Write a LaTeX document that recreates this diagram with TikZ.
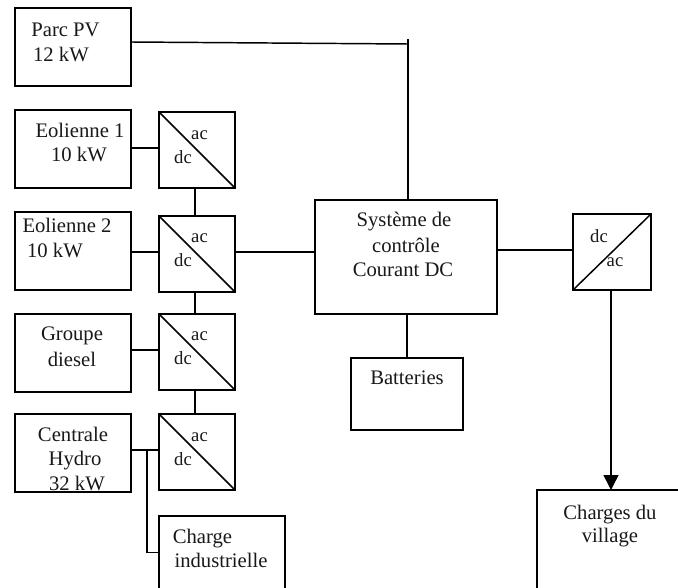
\documentclass[tikz,border=0pt]{standalone}
\usepackage{fontspec}
\setmainfont{Liberation Serif}
\usetikzlibrary{arrows.meta}
\tikzset{
  x=0.75pt,y=-0.75pt,
  boxnode/.style={draw=black,line width=1.1pt,fill=white,rectangle,inner sep=0pt,outer sep=0pt},
  wire/.style={draw=black,line width=1.1pt},
  lbl/.style={font=\fontsize{15.5}{18}\selectfont,inner sep=0pt,anchor=base,text=black!90},
  convlbl/.style={font=\fontsize{14}{16}\selectfont,inner sep=0pt,anchor=base,text=black!90}
}
\newcommand{\boxat}[5]{\node[boxnode,minimum width=#4*0.75pt,minimum height=#5*0.75pt] (#1) at (#2,#3) {};}
\begin{document}
\begin{tikzpicture}
\useasboundingbox (0,0) rectangle (678,588);
\clip (0,0) rectangle (678,588);
% source boxes
\boxat{pv}{73}{47}{116}{78}
\boxat{eo1}{73}{149}{116}{78}
\boxat{eo2}{73}{251}{116}{78}
\boxat{gd}{73}{353}{116}{78}
\boxat{hy}{73}{453}{116}{78}
% converters
\boxat{c1}{197}{150}{76}{76}
\boxat{c2}{197}{254}{76}{76}
\boxat{c3}{197}{352}{76}{76}
\boxat{c4}{197}{452}{76}{76}
\boxat{c5}{612}{252}{78}{76}
% others
\boxat{ind}{222}{566}{126}{100}
\boxat{sys}{406}{257}{182}{114}
\boxat{bat}{407}{394}{112}{72}
\boxat{vil}{625}{550}{176}{120}
% diagonals
\draw[wire] (c1.north west) -- (c1.south east);
\draw[wire] (c2.north west) -- (c2.south east);
\draw[wire] (c3.north west) -- (c3.south east);
\draw[wire] (c4.north west) -- (c4.south east);
\draw[wire] (c5.south west) -- (c5.north east);
% connectors
\coordinate (tee) at (408,39);
\coordinate (pvj) at (408,44);
\coordinate (hyj) at (147,450);
\draw[wire] (pv.east |- 0,42) -- (pvj);
\draw[wire] (tee) -- (tee |- sys.north);
\draw[wire] (eo1.east |- 0,148) -- (c1.west |- 0,148);
\draw[wire] (eo2.east |- 0,252) -- (c2.west |- 0,252);
\draw[wire] (gd.east |- 0,350) -- (c3.west |- 0,350);
\draw[wire] (hy.east |- 0,450) -- (c4.west |- 0,450);
\draw[wire] (195,188) -- (195,216);
\draw[wire] (195,292) -- (195,314);
\draw[wire] (195,390) -- (195,414);
\draw[wire] (c2.east |- 0,252) -- (sys.west |- 0,252);
\draw[wire] (hyj) |- (ind.west |- 0,552.5);
\draw[wire] (sys.east |- 0,250) -- (c5.west |- 0,250);
\draw[wire] (407,314) -- (bat.north -| 407,0);
\draw[wire,-{Triangle[length=15*0.75pt,width=15*0.75pt]}] (c5.south -| 611,0) -- (vil.north -| 611,0);
% labels
\node[lbl] at (65.5,37) {Parc PV};
\node[lbl] at (61,62) {12 kW};
\node[lbl] at (80,138) {Eolienne 1};
\node[lbl] at (79,162) {10 kW};
\node[lbl] at (67,233) {Eolienne 2};
\node[lbl] at (55,257) {10 kW};
\node[lbl] at (72,340) {Groupe};
\node[lbl] at (72,366) {diesel};
\node[lbl] at (73,441) {Centrale};
\node[lbl] at (75,465) {Hydro};
\node[lbl] at (77,490) {32 kW};
\node[lbl] at (202.5,543) {Charge};
\node[lbl] at (221,567) {industrielle};
\node[lbl] at (404,226) {Système de};
\node[lbl] at (406,252) {contrôle};
\node[lbl] at (403,276) {Courant DC};
\node[lbl] at (407,384) {Batteries};
\node[lbl] at (610,519) {Charges du};
\node[lbl] at (610,542) {village};
\foreach \cy in {140,242,340,441} {
  \node[convlbl] at (199.5,\cy) {ac};
  \node[convlbl] at (183,\cy+24) {dc};
}
\node[convlbl] at (599,242) {dc};
\node[convlbl] at (615,266) {ac};
\end{tikzpicture}
\end{document}
